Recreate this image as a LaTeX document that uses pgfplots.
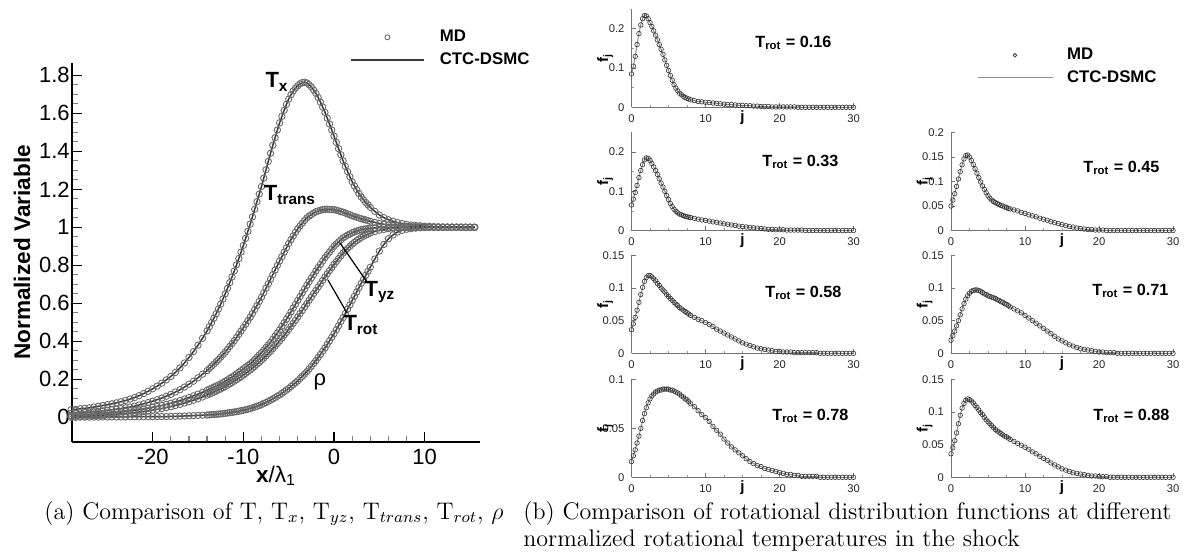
\documentclass[border=0pt]{standalone}
\usepackage{fontspec}
\usepackage{pgfplots}
\usepackage{pgfplotstable}
\pgfplotsset{compat=1.18}
\newfontfamily\arial{Liberation Sans}
\definecolor{mdgray}{gray}{0.42}
\definecolor{lngray}{gray}{0.22}

\pgfplotstableread{
x Tx Ttr Tyz Trot rho
-29.0 0.040 0.020 0.010 0.005 0.000
-28.5 0.042 0.021 0.011 0.005 0.000
-28.0 0.045 0.023 0.012 0.006 0.001
-27.5 0.047 0.025 0.013 0.007 0.001
-27.0 0.050 0.027 0.015 0.008 0.001
-26.5 0.054 0.029 0.016 0.009 0.001
-26.0 0.058 0.031 0.018 0.010 0.001
-25.5 0.062 0.034 0.020 0.011 0.002
-25.0 0.066 0.037 0.022 0.013 0.002
-24.5 0.071 0.040 0.024 0.014 0.002
-24.0 0.076 0.043 0.026 0.016 0.002
-23.5 0.082 0.046 0.028 0.018 0.002
-23.0 0.088 0.050 0.031 0.020 0.002
-22.5 0.096 0.054 0.034 0.022 0.003
-22.0 0.104 0.059 0.037 0.025 0.003
-21.5 0.114 0.065 0.040 0.028 0.003
-21.0 0.125 0.071 0.044 0.031 0.003
-20.5 0.137 0.078 0.048 0.034 0.003
-20.0 0.150 0.085 0.052 0.038 0.003
-19.5 0.164 0.093 0.057 0.042 0.004
-19.0 0.180 0.101 0.062 0.046 0.004
-18.5 0.197 0.111 0.068 0.051 0.004
-18.0 0.215 0.121 0.074 0.056 0.005
-17.5 0.236 0.133 0.081 0.062 0.005
-17.0 0.260 0.145 0.088 0.068 0.006
-16.5 0.286 0.159 0.096 0.075 0.007
-16.0 0.315 0.174 0.104 0.082 0.008
-15.5 0.346 0.190 0.113 0.090 0.009
-15.0 0.380 0.208 0.122 0.098 0.010
-14.5 0.416 0.227 0.132 0.107 0.011
-14.00 0.455 0.246 0.142 0.117 0.012
-13.75 0.477 0.257 0.148 0.122 0.013
-13.50 0.499 0.269 0.153 0.127 0.014
-13.25 0.522 0.280 0.159 0.132 0.015
-13.00 0.545 0.292 0.165 0.138 0.016
-12.75 0.570 0.304 0.171 0.144 0.017
-12.50 0.596 0.317 0.177 0.150 0.018
-12.25 0.623 0.330 0.183 0.156 0.019
-12.00 0.650 0.343 0.190 0.162 0.021
-11.75 0.679 0.358 0.197 0.169 0.023
-11.50 0.709 0.373 0.205 0.176 0.024
-11.25 0.739 0.388 0.212 0.183 0.026
-11.00 0.770 0.403 0.220 0.190 0.028
-10.75 0.803 0.420 0.229 0.198 0.030
-10.50 0.836 0.437 0.237 0.206 0.032
-10.25 0.870 0.454 0.246 0.214 0.035
-10.00 0.905 0.472 0.255 0.222 0.037
-9.75 0.942 0.490 0.264 0.231 0.040
-9.50 0.979 0.509 0.273 0.240 0.043
-9.25 1.017 0.527 0.282 0.249 0.046
-9.00 1.055 0.546 0.292 0.258 0.050
-8.75 1.095 0.567 0.304 0.268 0.054
-8.50 1.135 0.588 0.316 0.279 0.058
-8.25 1.175 0.610 0.328 0.289 0.062
-8.00 1.215 0.632 0.340 0.300 0.067
-7.75 1.259 0.656 0.354 0.312 0.073
-7.50 1.303 0.680 0.368 0.324 0.078
-7.25 1.347 0.703 0.381 0.336 0.084
-7.00 1.390 0.727 0.395 0.348 0.090
-6.75 1.432 0.751 0.411 0.361 0.097
-6.50 1.472 0.775 0.428 0.375 0.104
-6.25 1.512 0.799 0.444 0.388 0.111
-6.00 1.550 0.823 0.460 0.402 0.118
-5.75 1.584 0.846 0.479 0.417 0.126
-5.50 1.616 0.869 0.498 0.432 0.135
-5.25 1.647 0.892 0.516 0.447 0.143
-5.00 1.675 0.915 0.535 0.462 0.152
-4.75 1.698 0.935 0.555 0.478 0.162
-4.50 1.718 0.955 0.575 0.495 0.172
-4.25 1.733 0.974 0.595 0.511 0.182
-4.00 1.745 0.992 0.615 0.528 0.192
-3.75 1.755 1.007 0.635 0.546 0.204
-3.50 1.762 1.022 0.655 0.563 0.216
-3.25 1.764 1.036 0.675 0.581 0.228
-3.00 1.760 1.050 0.695 0.598 0.240
-2.75 1.751 1.059 0.714 0.616 0.254
-2.50 1.739 1.067 0.733 0.633 0.269
-2.25 1.723 1.075 0.751 0.651 0.283
-2.00 1.705 1.082 0.770 0.668 0.298
-1.75 1.683 1.086 0.788 0.686 0.315
-1.50 1.659 1.090 0.805 0.703 0.331
-1.25 1.633 1.093 0.823 0.721 0.348
-1.00 1.605 1.095 0.840 0.738 0.365
-0.75 1.575 1.095 0.855 0.755 0.384
-0.50 1.544 1.094 0.870 0.772 0.402
-0.25 1.512 1.094 0.885 0.788 0.421
0.00 1.480 1.093 0.900 0.805 0.440
0.25 1.447 1.090 0.912 0.820 0.461
0.50 1.414 1.087 0.923 0.835 0.482
0.75 1.382 1.083 0.934 0.850 0.504
1.00 1.350 1.080 0.945 0.865 0.525
1.25 1.321 1.075 0.952 0.877 0.547
1.50 1.293 1.071 0.959 0.889 0.570
1.75 1.266 1.066 0.965 0.900 0.592
2.00 1.240 1.061 0.972 0.912 0.615
2.25 1.218 1.057 0.976 0.921 0.637
2.50 1.198 1.053 0.980 0.930 0.660
2.75 1.178 1.049 0.984 0.938 0.682
3.00 1.160 1.045 0.988 0.947 0.705
3.25 1.145 1.042 0.990 0.953 0.726
3.50 1.131 1.039 0.992 0.959 0.748
3.75 1.118 1.035 0.993 0.964 0.769
4.00 1.105 1.032 0.995 0.970 0.790
4.5 1.084 1.026 0.997 0.978 0.833
5.0 1.065 1.020 0.998 0.985 0.875
5.5 1.051 1.016 0.999 0.989 0.910
6.0 1.040 1.013 1.000 0.993 0.940
6.5 1.032 1.010 1.000 0.995 0.960
7.0 1.025 1.008 1.000 0.997 0.975
7.5 1.020 1.006 1.000 0.999 0.984
8.0 1.015 1.005 1.000 1.000 0.990
8.5 1.012 1.004 1.000 1.000 0.993
9.0 1.010 1.003 1.000 1.000 0.996
9.5 1.008 1.002 1.000 1.000 0.998
10.0 1.006 1.002 1.000 1.000 0.999
10.5 1.005 1.001 1.000 1.000 1.000
11.0 1.004 1.001 1.000 1.000 1.000
11.5 1.003 1.001 1.000 1.000 1.000
12.0 1.002 1.000 1.000 1.000 1.000
12.5 1.002 1.000 1.000 1.000 1.000
13.0 1.001 1.000 1.000 1.000 1.000
13.5 1.001 1.000 1.000 1.000 1.000
14.0 1.000 1.000 1.000 1.000 1.000
14.5 1.000 1.000 1.000 1.000 1.000
15.0 1.000 1.000 1.000 1.000 1.000
15.5 1.000 1.000 1.000 1.000 1.000
}\shockdata

\pgfplotstableread{
j p1 p2 p3 p4 p5 p6 p7
0.00 0.085 0.065 0.050 0.036 0.020 0.016 0.036
0.25 0.105 0.080 0.062 0.045 0.027 0.022 0.045
0.50 0.130 0.097 0.075 0.055 0.034 0.028 0.056
0.75 0.160 0.115 0.090 0.066 0.042 0.035 0.068
1.00 0.188 0.135 0.105 0.078 0.050 0.042 0.082
1.25 0.210 0.153 0.120 0.090 0.059 0.050 0.095
1.50 0.226 0.168 0.134 0.101 0.068 0.058 0.106
1.75 0.234 0.180 0.146 0.110 0.076 0.065 0.113
2.00 0.233 0.185 0.153 0.116 0.083 0.071 0.118
2.25 0.226 0.184 0.154 0.119 0.088 0.076 0.120
2.50 0.216 0.179 0.150 0.119 0.092 0.080 0.119
2.75 0.206 0.171 0.143 0.117 0.095 0.083 0.117
3.00 0.195 0.162 0.135 0.114 0.096 0.085 0.114
3.25 0.184 0.153 0.126 0.111 0.097 0.087 0.110
3.50 0.172 0.143 0.117 0.107 0.097 0.088 0.107
3.75 0.160 0.132 0.108 0.104 0.096 0.089 0.103
4.00 0.148 0.121 0.099 0.100 0.095 0.089 0.099
4.25 0.135 0.111 0.091 0.097 0.093 0.090 0.096
4.50 0.121 0.100 0.084 0.094 0.091 0.090 0.092
4.75 0.107 0.089 0.077 0.090 0.090 0.090 0.088
5.00 0.094 0.079 0.071 0.087 0.088 0.090 0.085
5.25 0.081 0.069 0.066 0.084 0.087 0.089 0.082
5.50 0.069 0.061 0.062 0.081 0.086 0.089 0.079
5.75 0.058 0.054 0.059 0.078 0.085 0.088 0.076
6.00 0.049 0.049 0.057 0.075 0.084 0.087 0.073
6.25 0.042 0.045 0.055 0.073 0.082 0.086 0.071
6.50 0.036 0.042 0.053 0.070 0.081 0.085 0.069
6.75 0.032 0.040 0.051 0.068 0.079 0.083 0.067
7.00 0.028 0.038 0.050 0.066 0.078 0.082 0.065
7.25 0.025 0.036 0.048 0.064 0.076 0.080 0.063
7.50 0.023 0.035 0.047 0.062 0.075 0.079 0.062
7.75 0.021 0.034 0.045 0.060 0.073 0.077 0.060
8.00 0.019 0.033 0.044 0.058 0.071 0.075 0.058
8.5 0.017 0.031 0.042 0.055 0.068 0.072 0.055
9.0 0.015 0.029 0.040 0.052 0.065 0.068 0.052
9.5 0.014 0.027 0.037 0.050 0.062 0.064 0.049
10.0 0.013 0.026 0.035 0.047 0.058 0.061 0.046
10.5 0.012 0.024 0.032 0.044 0.054 0.057 0.043
11.0 0.011 0.022 0.030 0.041 0.050 0.052 0.039
11.5 0.010 0.021 0.028 0.037 0.046 0.048 0.036
12.0 0.009 0.019 0.025 0.034 0.042 0.044 0.032
12.5 0.008 0.017 0.023 0.031 0.038 0.039 0.029
13.0 0.007 0.016 0.021 0.028 0.034 0.035 0.026
13.5 0.007 0.014 0.018 0.025 0.030 0.031 0.022
14.0 0.006 0.013 0.016 0.022 0.026 0.028 0.019
14.5 0.005 0.011 0.014 0.019 0.022 0.025 0.016
15.0 0.005 0.010 0.012 0.016 0.019 0.022 0.013
15.5 0.004 0.009 0.010 0.014 0.016 0.019 0.011
16.0 0.004 0.008 0.008 0.012 0.013 0.016 0.009
16.5 0.003 0.007 0.007 0.010 0.011 0.014 0.007
17.0 0.003 0.006 0.005 0.008 0.009 0.012 0.006
17.5 0.002 0.005 0.004 0.007 0.007 0.011 0.005
18.0 0.002 0.004 0.003 0.006 0.006 0.009 0.004
18.5 0.002 0.003 0.002 0.005 0.005 0.008 0.003
19.0 0.001 0.003 0.002 0.004 0.004 0.007 0.002
19.5 0.001 0.002 0.001 0.003 0.003 0.006 0.002
20.0 0.001 0.002 0.001 0.003 0.002 0.005 0.001
20.5 0.001 0.002 0.001 0.002 0.002 0.004 0.001
21.0 0.001 0.001 0.000 0.002 0.001 0.003 0.001
21.5 0.001 0.001 0.000 0.002 0.001 0.003 0.000
22.0 0.001 0.001 0.000 0.001 0.001 0.002 0.000
22.5 0.000 0.001 0.000 0.001 0.000 0.002 0.000
23.0 0.000 0.001 0.000 0.001 0.000 0.001 0.000
23.5 0.000 0.000 0.000 0.001 0.000 0.001 0.000
24.0 0.000 0.000 0.000 0.001 0.000 0.001 0.000
24.5 0.000 0.000 0.000 0.001 0.000 0.001 0.000
25.0 0.000 0.000 0.000 0.001 0.000 0.001 0.000
25.5 0.000 0.000 0.000 0.000 0.000 0.000 0.000
26.0 0.000 0.000 0.000 0.000 0.000 0.000 0.000
26.5 0.000 0.000 0.000 0.000 0.000 0.000 0.000
27.0 0.000 0.000 0.000 0.000 0.000 0.000 0.000
27.5 0.000 0.000 0.000 0.000 0.000 0.000 0.000
28.0 0.000 0.000 0.000 0.000 0.000 0.000 0.000
28.5 0.000 0.000 0.000 0.000 0.000 0.000 0.000
29.0 0.000 0.000 0.000 0.000 0.000 0.000 0.000
29.5 0.000 0.000 0.000 0.000 0.000 0.000 0.000
30.0 0.000 0.000 0.000 0.000 0.000 0.000 0.000
}\distdata

\pgfplotsset{
  rpanel/.style={
    anchor=south west, scale only axis, width=111pt, height=49pt,
    xmin=0, xmax=30, ymin=0, clip=false,
    axis x line*=bottom, axis y line*=left,
    axis line style={black!55, line width=0.5pt},
    tick align=inside,
    xtick={0,10,20,30}, xticklabels={0,10,20,30},
    minor x tick num=3, minor y tick num=1,
    major tick length=2.2pt, minor tick length=1.2pt,
    every tick/.style={black!55, line width=0.4pt},
    every minor tick/.style={black!40, line width=0.3pt},
    ticklabel style={font=\arial\fontsize{5.6}{6}\selectfont, text=black!85},
    xlabel={j},
    xlabel style={at={(axis description cs:0.5,-0.03)}, anchor=north, inner sep=0pt, font=\arial\bfseries\fontsize{7.5}{8}\selectfont},
    ylabel={f\textsubscript{j}},
    ylabel style={at={(axis description cs:-0.119,0.5)}, anchor=center, inner sep=0pt, font=\arial\bfseries\fontsize{7.5}{8}\selectfont},
  },
  mdr/.style={only marks, mark=o, mark size=1.15pt, mark options={draw=black!80, line width=0.3pt}, forget plot},
  lnr/.style={no marks, line width=0.5pt, color=black!45, forget plot},
  mdl/.style={only marks, mark=o, mark size=1.6pt, mark options={draw=mdgray, line width=0.45pt}, forget plot},
  lnl/.style={no marks, line width=0.75pt, color=lngray, forget plot},
}

\begin{document}
\begin{tikzpicture}
\useasboundingbox (0pt,0pt) rectangle (601.5pt,276pt);

% ---------------- left panel ----------------
\begin{axis}[
  at={(36pt,55pt)}, anchor=south west,
  scale only axis, width=204pt, height=189.5pt,
  xmin=-28.9, xmax=16.1, ymin=-0.13, ymax=1.865, clip=false,
  axis x line*=bottom, axis y line*=left,
  axis line style={black, line width=1pt},
  tick align=inside,
  xtick={-20,-10,0,10}, xticklabels={-20,-10,0,10},
  ytick={0,0.2,0.4,0.6,0.8,1,1.2,1.4,1.6,1.8},
  yticklabels={0,0.2,0.4,0.6,0.8,1,1.2,1.4,1.6,1.8},
  minor x tick num=4, minor y tick num=3,
  major tick length=5pt, minor tick length=3pt,
  every tick/.style={black, line width=0.8pt},
  every minor tick/.style={black!50, line width=0.6pt},
  ticklabel style={font=\arial\fontsize{11}{12}\selectfont},
  yticklabel style={inner sep=1pt},
  xlabel={\textbf{x}/λ\textsubscript{1}},
  xlabel style={at={(axis description cs:0.5,-0.0897)}, anchor=center, font=\arial\fontsize{11.3}{13}\selectfont},
  ylabel={Normalized Variable},
  ylabel style={at={(axis description cs:-0.1225,0.5)}, anchor=center, font=\arial\bfseries\fontsize{11.3}{13}\selectfont},
  legend style={at={(axis description cs:0.6814,1.087)}, anchor=north west, draw=none, fill=none,
    inner sep=0pt, outer sep=0pt, row sep=4pt, column sep=7.5pt, nodes={inner sep=0pt},
    font=\arial\bfseries\fontsize{8.4}{9}\selectfont},
  legend cell align=left,
]
\addlegendimage{legend image code/.code={\draw[mdgray, line width=0.45pt] (18.25pt,0pt) circle[radius=1.25pt];}}
\addlegendentry{MD}
\addlegendimage{legend image code/.code={\draw[lngray, line width=0.9pt] (0pt,0pt) -- (36.5pt,0pt);}}
\addlegendentry{CTC-DSMC}
\addplot[mdl] table[x=x, y=rho] {\shockdata};
\addplot[mdl] table[x=x, y=Trot] {\shockdata};
\addplot[mdl] table[x=x, y=Tyz] {\shockdata};
\addplot[mdl] table[x=x, y=Ttr] {\shockdata};
\addplot[mdl] table[x=x, y=Tx] {\shockdata};
\addplot[lnl] table[x=x, y=rho] {\shockdata};
\addplot[lnl] table[x=x, y=Trot] {\shockdata};
\addplot[lnl] table[x=x, y=Tyz] {\shockdata};
\addplot[lnl] table[x=x, y=Ttr] {\shockdata};
\addplot[lnl] table[x=x, y=Tx] {\shockdata};
\end{axis}

% curve labels (left)
\tikzset{clab/.style={inner sep=0pt, font=\arial\bfseries\fontsize{11}{12}\selectfont}}
\node[clab] at (138.5pt,235pt) {T\textsubscript{x}};
\node[clab] at (145pt,178.5pt) {T\textsubscript{trans}};
\node[clab] at (190pt,130pt) {T\textsubscript{yz}};
\node[clab] at (180.5pt,113.5pt) {T\textsubscript{rot}};
\node[inner sep=0pt, font=\arial\fontsize{11}{12}\selectfont] at (160pt,85pt) {ρ};
\draw[black, line width=0.6pt] (170pt,154.5pt) -- (183.5pt,135pt);
\draw[black, line width=0.6pt] (164pt,136pt) -- (173.5pt,119.5pt);

% ---------------- right panels ----------------
\begin{axis}[rpanel, at={(315.75pt,222.35pt)}, ymax=0.25,
  ytick={0,0.1,0.2}, yticklabels={0,0.1,0.2},
  legend style={at={(axis description cs:1.5563,0.605)}, anchor=north west, draw=none, fill=none,
    inner sep=0pt, outer sep=0pt, row sep=4pt, column sep=7pt, nodes={inner sep=0pt},
    font=\arial\bfseries\fontsize{8.4}{9}\selectfont},
  legend cell align=left]
\addlegendimage{legend image code/.code={\draw[black!75, line width=0.4pt] (18.75pt,0pt) circle[radius=0.9pt];}}
\addlegendentry{MD}
\addlegendimage{legend image code/.code={\draw[black!45, line width=0.5pt] (0pt,0pt) -- (37.5pt,0pt);}}
\addlegendentry{CTC-DSMC}
\addplot[mdr] table[x=j, y=p1] {\distdata};
\addplot[lnr] table[x=j, y=p1] {\distdata};
\end{axis}

\begin{axis}[rpanel, at={(315.75pt,160.75pt)}, ymax=0.25,
  ytick={0,0.1,0.2}, yticklabels={0,0.1,0.2}]
\addplot[mdr] table[x=j, y=p2] {\distdata};
\addplot[lnr] table[x=j, y=p2] {\distdata};
\end{axis}

\begin{axis}[rpanel, at={(475.5pt,160.75pt)}, ymax=0.2,
  ytick={0,0.05,0.1,0.15,0.2}, yticklabels={0,0.05,0.1,0.15,0.2}, minor y tick num=0]
\addplot[mdr] table[x=j, y=p3] {\distdata};
\addplot[lnr] table[x=j, y=p3] {\distdata};
\end{axis}

\begin{axis}[rpanel, at={(315.75pt,99.35pt)}, ymax=0.15,
  ytick={0,0.05,0.1,0.15}, yticklabels={0,0.05,0.1,0.15}, minor y tick num=0]
\addplot[mdr] table[x=j, y=p4] {\distdata};
\addplot[lnr] table[x=j, y=p4] {\distdata};
\end{axis}

\begin{axis}[rpanel, at={(475.5pt,99.35pt)}, ymax=0.15,
  ytick={0,0.05,0.1,0.15}, yticklabels={0,0.05,0.1,0.15}, minor y tick num=0]
\addplot[mdr] table[x=j, y=p5] {\distdata};
\addplot[lnr] table[x=j, y=p5] {\distdata};
\end{axis}

\begin{axis}[rpanel, at={(315.75pt,37.35pt)}, ymax=0.1,
  ytick={0,0.05,0.1}, yticklabels={0,0.05,0.1}, minor y tick num=0]
\addplot[mdr] table[x=j, y=p6] {\distdata};
\addplot[lnr] table[x=j, y=p6] {\distdata};
\end{axis}

\begin{axis}[rpanel, at={(475.5pt,37.35pt)}, ymax=0.15,
  ytick={0,0.05,0.1,0.15}, yticklabels={0,0.05,0.1,0.15}, minor y tick num=0]
\addplot[mdr] table[x=j, y=p7] {\distdata};
\addplot[lnr] table[x=j, y=p7] {\distdata};
\end{axis}

% T_rot annotations
\tikzset{trot/.style={anchor=west, inner sep=0pt, font=\arial\bfseries\fontsize{8.1}{10}\selectfont}}
\node[trot] at (377.5pt,254.5pt) {T\textsubscript{rot} = 0.16};
\node[trot] at (381pt,195pt) {T\textsubscript{rot} = 0.33};
\node[trot] at (541.5pt,192pt) {T\textsubscript{rot} = 0.45};
\node[trot] at (382.5pt,129.5pt) {T\textsubscript{rot} = 0.58};
\node[trot] at (546pt,130.5pt) {T\textsubscript{rot} = 0.71};
\node[trot] at (386pt,68pt) {T\textsubscript{rot} = 0.78};
\node[trot] at (546.5pt,68pt) {T\textsubscript{rot} = 0.88};

% captions
\node[anchor=base, inner sep=0pt, font=\fontsize{12}{14}\selectfont] at (137pt,16.5pt)
  {(a) Comparison of T, T$_x$, T$_{yz}$, T$_{trans}$, T$_{rot}$, $\rho$};
\node[anchor=base west, inner sep=0pt, font=\fontsize{12}{14}\selectfont] at (261.5pt,16.5pt)
  {(b) Comparison of rotational distribution functions at different};
\node[anchor=base west, inner sep=0pt, font=\fontsize{12}{14}\selectfont] at (261.5pt,2.6pt)
  {normalized rotational temperatures in the shock};
\end{tikzpicture}
\end{document}
